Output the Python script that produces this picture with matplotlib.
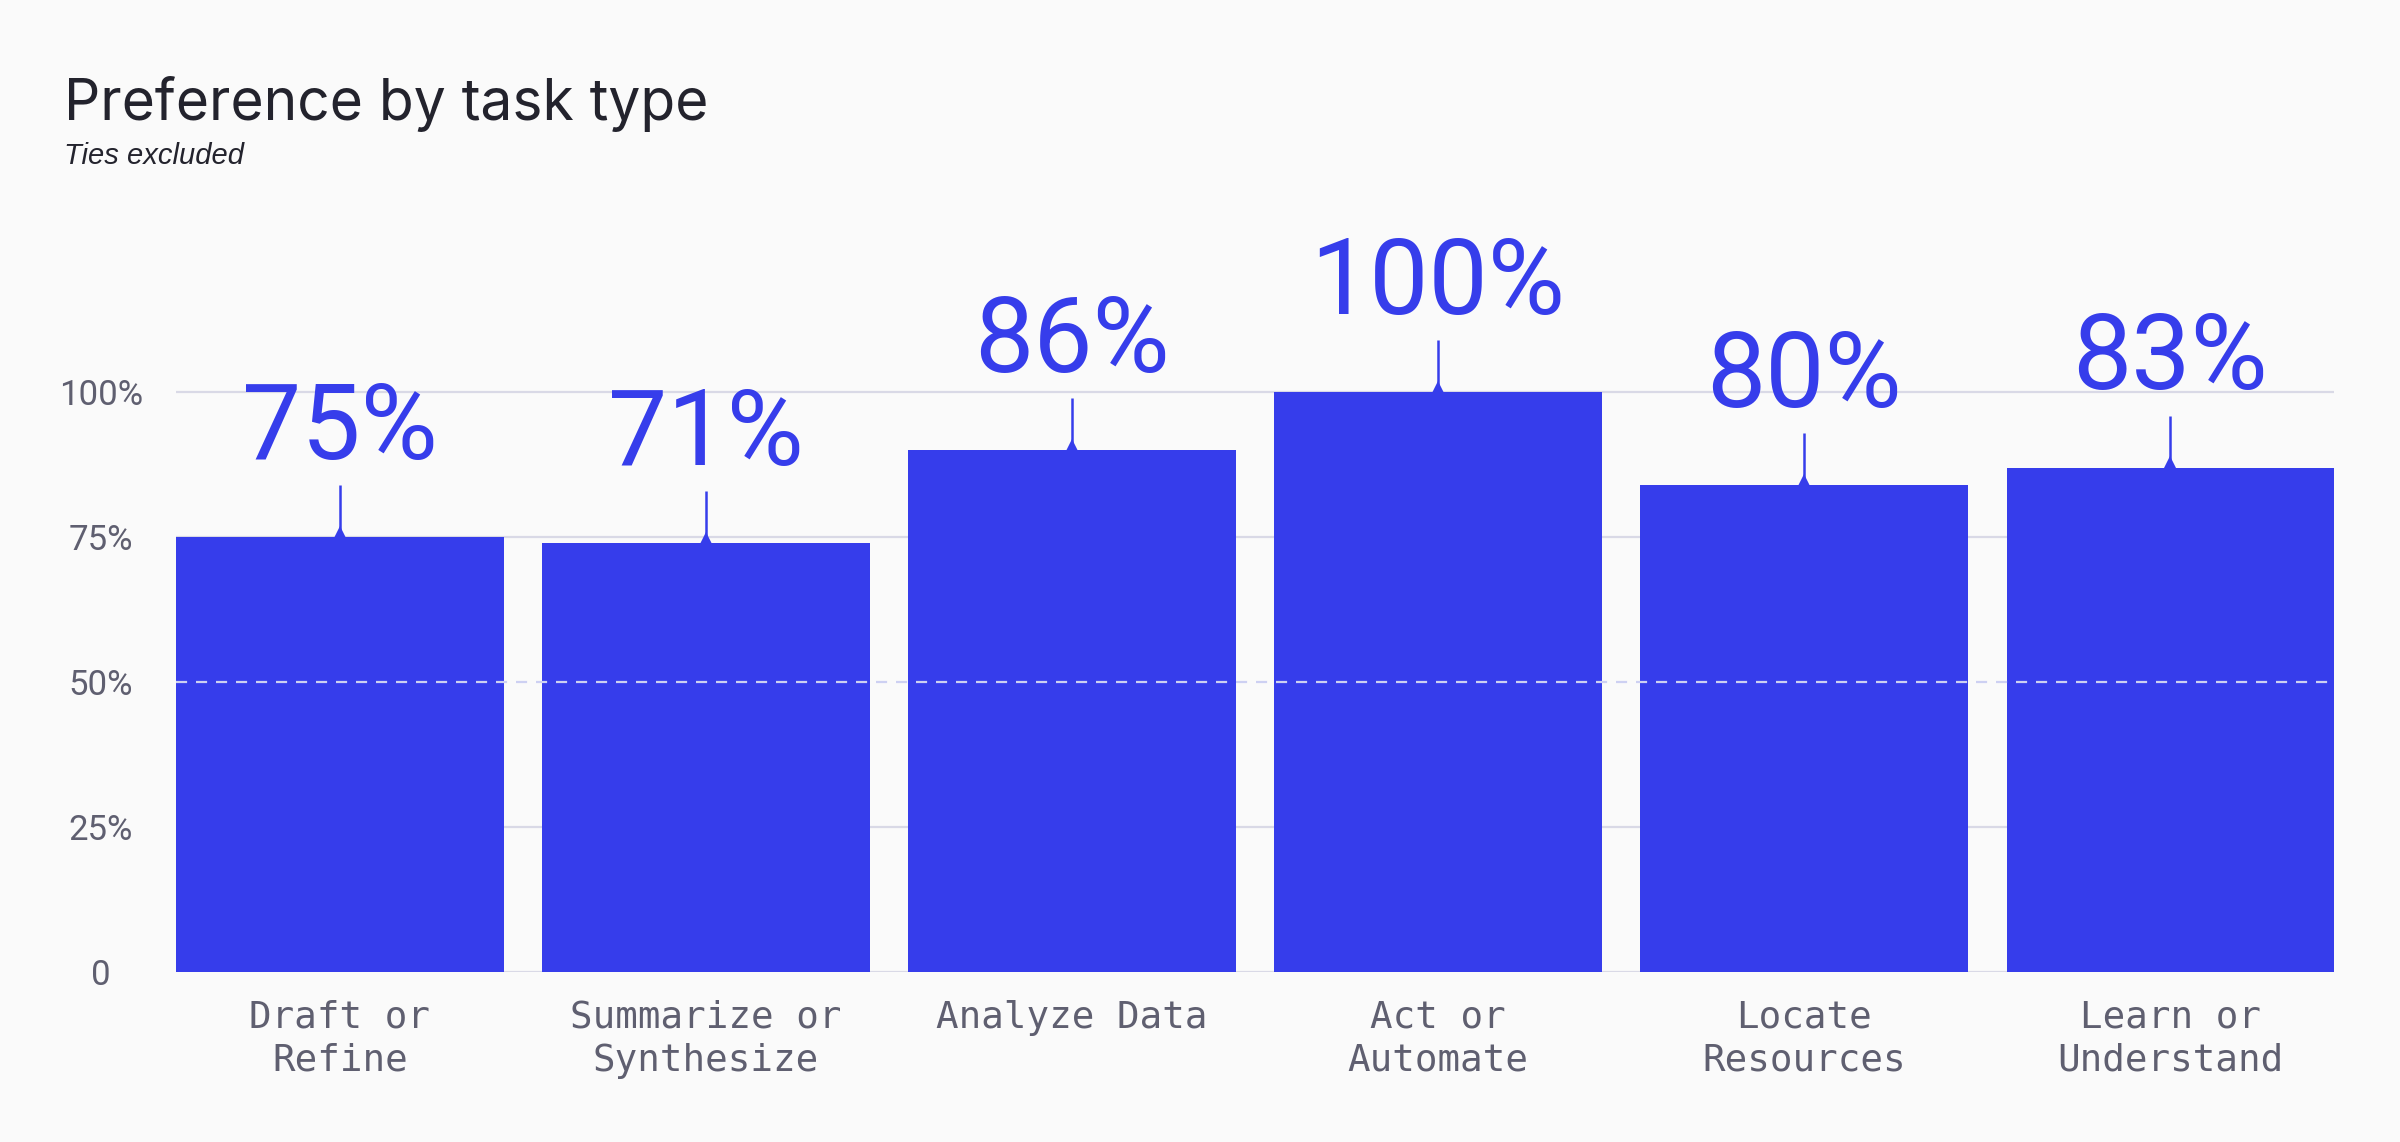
import matplotlib
matplotlib.use("Agg")
import matplotlib.pyplot as plt

categories = ["Draft or\nRefine", "Summarize or\nSynthesize", "Analyze Data",
              "Act or\nAutomate", "Locate\nResources", "Learn or\nUnderstand"]
bar_values = [75, 74, 90, 100, 84, 87]
label_values = [75, 71, 86, 100, 80, 83]
y_ticks = [0, 25, 50, 75, 100]
y_tick_labels = ["0", "25%", "50%", "75%", "100%"]

BG = "#fafafa"
BLUE = "#363deb"
GRID = "#d9d9e6"
TEXT = "#23232d"
MUTED = "#5f5f70"

fig = plt.figure(figsize=(12, 5.71), dpi=200, facecolor=BG)
ax = fig.add_axes([0.0733, 0.149, 0.8993, 0.6597], facecolor=BG)

x = range(len(categories))
ax.bar(x, bar_values, width=0.895, color=BLUE, zorder=2)
ax.set_xlim(-0.4475, len(categories) - 1 + 0.4475)
ax.set_ylim(0, 130)

# gridlines: solid behind bars, dashed 50% line on top
for t in y_ticks:
    if t == 50:
        ax.axhline(t, color="#cdd0f2", lw=0.8, ls=(0, (5, 4)), zorder=3)
    else:
        ax.axhline(t, color=GRID, lw=0.8, zorder=1)

# value callouts
for i, (v, lab) in enumerate(zip(bar_values, label_values)):
    ax.vlines(i, v, v + 9, color=BLUE, lw=0.9, zorder=4)
    ax.plot(i, v + 0.9, marker="^", ms=4, color=BLUE, mew=0, zorder=4)
    ax.text(i, v + 13.5, f"{lab}%", ha="center", va="baseline",
            fontsize=38, color=BLUE, family="Roboto", clip_on=False)

ax.set_yticks(y_ticks)
ax.set_yticklabels(y_tick_labels, family="Roboto", fontsize=12.5, color=MUTED)
for t in ax.get_yticklabels():
    t.set_horizontalalignment("center")
ax.tick_params(axis="y", length=0, pad=27)

ax.set_xticks(list(x))
ax.set_xticklabels(categories, family="DejaVu Sans Mono", fontsize=13.5,
                   color=MUTED, linespacing=1.25, va="top")
ax.tick_params(axis="x", length=0, pad=10)

for s in ax.spines.values():
    s.set_visible(False)

fig.text(0.0268, 0.895, "Preference by task type", family="Inter",
         fontsize=20.5, color=TEXT, va="baseline")
fig.text(0.0268, 0.856, "Ties excluded", family="Liberation Sans",
         style="italic", fontsize=10.5, color=TEXT, va="baseline")

fig.savefig("out.png", dpi=200, facecolor=BG)
